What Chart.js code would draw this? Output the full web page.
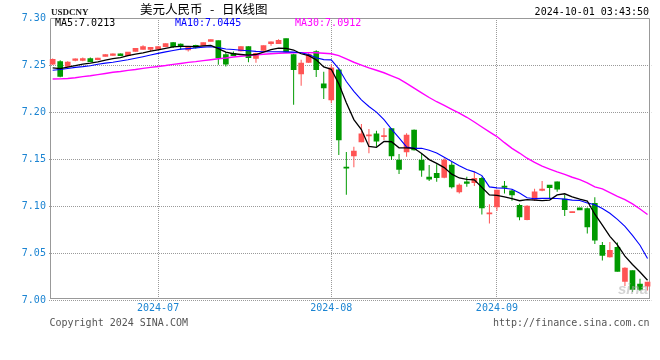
<!DOCTYPE html>
<html>
<head>
<meta charset="utf-8">
<title>USDCNY 日K线图</title>
<script src="https://cdn.jsdelivr.net/npm/chart.js@4.4.1/dist/chart.umd.min.js"></script>
<style>
  html, body { margin: 0; padding: 0; background: #fff; }
  canvas { display: block; }
</style>
</head>
<body>
<canvas id="kChart" width="660" height="360"></canvas>
<script>
// trading days shown on the chart
const junDays = [11, 12, 13, 14, 17, 18, 19, 20, 21, 24, 25, 26, 27, 28];
const julDays = [1, 2, 3, 4, 5, 8, 9, 10, 11, 12, 15, 16, 17, 18, 19, 22, 23, 24, 25, 26, 29, 30, 31];
const augDays = [1, 2, 5, 6, 7, 8, 9, 12, 13, 14, 15, 16, 19, 20, 21, 22, 23, 26, 27, 28, 29, 30];
const sepDays = [2, 3, 4, 5, 6, 9, 10, 11, 12, 13, 14, 18, 19, 20, 23, 24, 25, 26, 27, 29, 30];

const opens = [7.2510, 7.2538, 7.2485, 7.2550, 7.2550, 7.2570, 7.2556, 7.2592, 7.2602, 7.2620,
  7.2600, 7.2645, 7.2666, 7.2666, 7.2670, 7.2695, 7.2738, 7.2723, 7.2660, 7.2709,
  7.2709, 7.2751, 7.2760, 7.2610, 7.2625, 7.2650, 7.2695, 7.2570, 7.2656, 7.2727,
  7.2727, 7.2780, 7.2610, 7.2407, 7.2528, 7.2642, 7.2301, 7.2130, 7.2450, 7.1410,
  7.1534, 7.1683, 7.1747, 7.1768, 7.1740, 7.1824, 7.1490, 7.1576, 7.1810, 7.1491,
  7.1310, 7.1349, 7.1307, 7.1437, 7.1153, 7.1260, 7.1249, 7.1296, 7.0918, 7.0993,
  7.1214, 7.1164, 7.1008, 7.0858, 7.1072, 7.1169, 7.1224, 7.1260, 7.1075, 7.0931,
  7.0982, 7.0976, 7.1031, 7.0585, 7.0460, 7.0564, 7.0201, 7.0315, 7.0173, 7.0151];
const highs = [7.2570, 7.2550, 7.2540, 7.2570, 7.2580, 7.2580, 7.2577, 7.2615, 7.2622, 7.2623,
  7.2640, 7.2680, 7.2710, 7.2690, 7.2698, 7.2730, 7.2745, 7.2730, 7.2698, 7.2716,
  7.2740, 7.2772, 7.2762, 7.2640, 7.2645, 7.2700, 7.2700, 7.2630, 7.2708, 7.2750,
  7.2773, 7.2782, 7.2620, 7.2556, 7.2634, 7.2656, 7.2430, 7.2507, 7.2470, 7.1576,
  7.1632, 7.1874, 7.1820, 7.1803, 7.1832, 7.1830, 7.1555, 7.1775, 7.1815, 7.1555,
  7.1437, 7.1445, 7.1510, 7.1473, 7.1242, 7.1313, 7.1367, 7.1313, 7.1020, 7.1175,
  7.1267, 7.1178, 7.1026, 7.1010, 7.1185, 7.1267, 7.1226, 7.1263, 7.1118, 7.0935,
  7.0983, 7.0985, 7.1095, 7.0620, 7.0620, 7.0614, 7.0350, 7.0317, 7.0230, 7.0198];
const lows = [7.2500, 7.2370, 7.2480, 7.2540, 7.2540, 7.2532, 7.2550, 7.2590, 7.2600, 7.2595,
  7.2598, 7.2643, 7.2664, 7.2645, 7.2668, 7.2693, 7.2680, 7.2663, 7.2645, 7.2677,
  7.2707, 7.2750, 7.2503, 7.2485, 7.2595, 7.2645, 7.2530, 7.2525, 7.2654, 7.2706,
  7.2725, 7.2630, 7.2077, 7.2280, 7.2521, 7.2372, 7.2138, 7.2095, 7.1544, 7.1121,
  7.1413, 7.1680, 7.1562, 7.1632, 7.1704, 7.1490, 7.1342, 7.1526, 7.1592, 7.1313,
  7.1267, 7.1260, 7.1296, 7.1189, 7.1135, 7.1206, 7.1214, 7.0912, 7.0816, 7.0950,
  7.1135, 7.1057, 7.0851, 7.0850, 7.1054, 7.1160, 7.1083, 7.1153, 7.0897, 7.0931,
  7.0960, 7.0709, 7.0599, 7.0422, 7.0455, 7.0305, 7.0151, 7.0087, 7.0100, 7.0105];
const closes = [7.2560, 7.2378, 7.2532, 7.2567, 7.2570, 7.2535, 7.2575, 7.2610, 7.2620, 7.2600,
  7.2638, 7.2677, 7.2695, 7.2688, 7.2695, 7.2727, 7.2695, 7.2695, 7.2695, 7.2688,
  7.2738, 7.2770, 7.2575, 7.2510, 7.2600, 7.2695, 7.2578, 7.2625, 7.2706, 7.2748,
  7.2762, 7.2640, 7.2450, 7.2521, 7.2613, 7.2450, 7.2258, 7.2471, 7.1704, 7.1404,
  7.1587, 7.1768, 7.1758, 7.1691, 7.1745, 7.1533, 7.1392, 7.1757, 7.1597, 7.1384,
  7.1288, 7.1302, 7.1491, 7.1206, 7.1224, 7.1242, 7.1296, 7.0982, 7.0922, 7.1170,
  7.1200, 7.1121, 7.0887, 7.1000, 7.1153, 7.1183, 7.1196, 7.1182, 7.0962, 7.0935,
  7.0961, 7.0780, 7.0640, 7.0478, 7.0532, 7.0308, 7.0343, 7.0116, 7.0116, 7.0194];

// moving averages as drawn on the picture
const ma5 = [7.2470, 7.2462, 7.2478, 7.2494, 7.2510, 7.2520, 7.2534, 7.2553, 7.2569, 7.2578,
  7.2600, 7.2616, 7.2630, 7.2647, 7.2662, 7.2678, 7.2693, 7.2698, 7.2698, 7.2696,
  7.2703, 7.2709, 7.2675, 7.2637, 7.2620, 7.2612, 7.2605, 7.2612, 7.2638, 7.2665,
  7.2679, 7.2678, 7.2660, 7.2620, 7.2600, 7.2555, 7.2480, 7.2455, 7.2300, 7.2100,
  7.1920, 7.1815, 7.1635, 7.1626, 7.1688, 7.1685, 7.1620, 7.1620, 7.1615, 7.1560,
  7.1495, 7.1455, 7.1410, 7.1340, 7.1300, 7.1285, 7.1280, 7.1200, 7.1120, 7.1115,
  7.1100, 7.1080, 7.1058, 7.1070, 7.1065, 7.1060, 7.1065, 7.1120, 7.1132, 7.1100,
  7.1075, 7.1055, 7.0915, 7.0800, 7.0680, 7.0590, 7.0470, 7.0380, 7.0300, 7.0213];
const ma10 = [7.2445, 7.2452, 7.2463, 7.2475, 7.2483, 7.2493, 7.2508, 7.2520, 7.2530, 7.2543,
  7.2556, 7.2572, 7.2589, 7.2607, 7.2624, 7.2640, 7.2655, 7.2669, 7.2675, 7.2682,
  7.2690, 7.2695, 7.2685, 7.2670, 7.2665, 7.2658, 7.2652, 7.2645, 7.2642, 7.2642,
  7.2642, 7.2640, 7.2637, 7.2630, 7.2612, 7.2578, 7.2558, 7.2555, 7.2460, 7.2325,
  7.2220, 7.2130, 7.2060, 7.2000, 7.1920, 7.1820, 7.1725, 7.1630, 7.1615, 7.1615,
  7.1595, 7.1565, 7.1520, 7.1475, 7.1430, 7.1390, 7.1365, 7.1325, 7.1205, 7.1195,
  7.1190, 7.1180, 7.1140, 7.1090, 7.1080, 7.1083, 7.1083, 7.1082, 7.1075, 7.1065,
  7.1060, 7.1035, 7.1015, 7.0975, 7.0925, 7.0860, 7.0785, 7.0690, 7.0585, 7.0445];
const ma30 = [7.2351, 7.2353, 7.2357, 7.2365, 7.2377, 7.2386, 7.2398, 7.2410, 7.2423, 7.2432,
  7.2443, 7.2453, 7.2465, 7.2475, 7.2485, 7.2495, 7.2507, 7.2517, 7.2528, 7.2536,
  7.2547, 7.2557, 7.2567, 7.2575, 7.2585, 7.2593, 7.2600, 7.2608, 7.2615, 7.2620,
  7.2625, 7.2628, 7.2630, 7.2632, 7.2632, 7.2630, 7.2625, 7.2620, 7.2600, 7.2565,
  7.2530, 7.2500, 7.2470, 7.2445, 7.2418, 7.2385, 7.2352, 7.2305, 7.2255, 7.2205,
  7.2155, 7.2110, 7.2072, 7.2030, 7.1990, 7.1945, 7.1895, 7.1842, 7.1790, 7.1740,
  7.1675, 7.1615, 7.1565, 7.1510, 7.1465, 7.1425, 7.1395, 7.1365, 7.1338, 7.1308,
  7.1282, 7.1248, 7.1205, 7.1185, 7.1145, 7.1105, 7.1070, 7.1025, 7.0970, 7.0912];

const yTicks = [7.00, 7.05, 7.10, 7.15, 7.20, 7.25, 7.30];

const pad2 = n => (n < 10 ? '0' : '') + n;
const dates = []
  .concat(junDays.map(d => '2024-06-' + pad2(d)))
  .concat(julDays.map(d => '2024-07-' + pad2(d)))
  .concat(augDays.map(d => '2024-08-' + pad2(d)))
  .concat(sepDays.map(d => '2024-09-' + pad2(d)));

// first trading day of each new month gets a grid line and a label
const monthStart = dates.map((d, i) => i > 0 && d.slice(0, 7) !== dates[i - 1].slice(0, 7));

const UP = '#ff5454';
const DOWN = '#009a00';
const candleColors = closes.map((c, i) => (c >= opens[i] ? UP : DOWN));
const TICK_BLUE = '#1b84d2';
const MONO = '"DejaVu Sans Mono", monospace';

const overlay = {
  id: 'overlay',
  beforeDatasetsDraw(chart) {
    const ctx = chart.ctx;
    ctx.save();
    ctx.strokeStyle = '#999';
    ctx.lineWidth = 1;
    ctx.beginPath();
    ctx.moveTo(50.5, 298.5);
    ctx.lineTo(50.5, 18.5);
    ctx.lineTo(649.5, 18.5);
    ctx.lineTo(649.5, 298.5);
    ctx.moveTo(50, 298.5);
    ctx.lineTo(650, 298.5);
    ctx.stroke();
    ctx.restore();
  },
  afterDraw(chart) {
    const ctx = chart.ctx;
    ctx.save();
    ctx.textBaseline = 'middle';

    ctx.fillStyle = 'rgba(175,175,175,0.55)';
    ctx.font = 'italic bold 15px "Liberation Sans", sans-serif';
    ctx.textAlign = 'right';
    ctx.fillText('sina', 648, 290);

    ctx.textAlign = 'left';
    ctx.fillStyle = '#222';
    ctx.font = 'bold 9px "Liberation Serif", serif';
    ctx.fillText('USDCNY', 51, 12.5);

    ctx.fillStyle = '#000';
    ctx.font = '12.5px "Noto Sans CJK SC", sans-serif';
    ctx.fillText('美元人民币', 140, 9.5);
    ctx.fillText('-', 210, 9.5);
    ctx.fillText('日K线图', 222, 9.5);

    ctx.font = '10px ' + MONO;
    ctx.textAlign = 'right';
    ctx.fillText('2024-10-01 03:43:50', 649, 12.5);

    ctx.textAlign = 'left';
    ctx.fillStyle = '#000';
    ctx.fillText('MA5:' + ma5[ma5.length - 1].toFixed(4), 55, 23.5);
    ctx.fillStyle = '#0000ff';
    ctx.fillText('MA10:' + ma10[ma10.length - 1].toFixed(4), 175, 23.5);
    ctx.fillStyle = '#ff00ff';
    ctx.fillText('MA30:' + ma30[ma30.length - 1].toFixed(4), 295, 23.5);

    ctx.fillStyle = '#555';
    ctx.fillText('Copyright 2024 SINA.COM', 49.5, 323.5);
    ctx.textAlign = 'right';
    ctx.fillText('http://finance.sina.com.cn', 649.5, 323.5);
    ctx.restore();
  }
};

const ctx = document.getElementById('kChart').getContext('2d');
new Chart(ctx, {
  type: 'bar',
  data: {
    labels: dates,
    datasets: [
      { type: 'line', label: 'MA5', data: ma5, borderColor: '#000', borderWidth: 1.3, pointRadius: 0, tension: 0, order: 0 },
      { type: 'line', label: 'MA10', data: ma10, borderColor: '#0000ff', borderWidth: 1.1, pointRadius: 0, tension: 0, order: 0 },
      { type: 'line', label: 'MA30', data: ma30, borderColor: '#ff00ff', borderWidth: 1.4, pointRadius: 0, tension: 0, order: 0 },
      {
        label: 'body',
        data: dates.map((_, i) => [opens[i], closes[i]]),
        backgroundColor: candleColors,
        barThickness: 5,
        minBarLength: 1,
        grouped: false,
        order: 1
      },
      {
        label: 'wick',
        data: dates.map((_, i) => [lows[i], highs[i]]),
        backgroundColor: candleColors,
        barThickness: 1,
        inflateAmount: 0,
        minBarLength: 1,
        grouped: false,
        order: 2
      }
    ]
  },
  options: {
    responsive: false,
    animation: false,
    events: [],
    layout: { padding: { left: 0, right: 8.7, top: 18, bottom: 0 } },
    plugins: { legend: { display: false }, tooltip: { enabled: false } },
    scales: {
      x: {
        offset: true,
        afterFit: scale => { scale.height = 59.7; },
        grid: {
          offset: false,
          drawTicks: false,
          color: c => (monthStart[c.index] ? '#9a9a9a' : 'rgba(0,0,0,0)')
        },
        border: { display: false, dash: [1, 1] },
        ticks: {
          autoSkip: false,
          maxRotation: 0,
          padding: 2,
          color: TICK_BLUE,
          font: { family: MONO, size: 10 },
          callback: (v, i) => (monthStart[i] ? dates[i].slice(0, 7) : '')
        }
      },
      y: {
        min: yTicks[0],
        max: yTicks[yTicks.length - 1],
        afterFit: scale => { scale.width = 48.9; },
        afterBuildTicks: scale => { scale.ticks = yTicks.map(v => ({ value: v })); },
        grid: {
          drawTicks: false,
          color: c => (c.tick && c.tick.value >= 7.2999 ? 'rgba(0,0,0,0)' : '#9a9a9a')
        },
        border: { display: false, dash: [1, 1] },
        ticks: {
          padding: 3,
          color: TICK_BLUE,
          font: { family: MONO, size: 10 },
          callback: v => v.toFixed(2)
        }
      }
    }
  },
  plugins: [overlay]
});
</script>
</body>
</html>
